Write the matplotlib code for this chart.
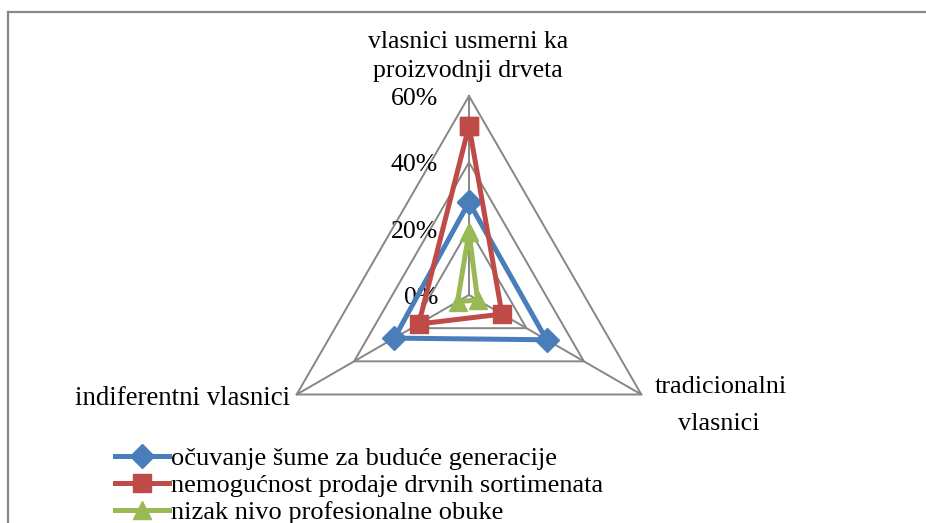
import numpy as np
import matplotlib
matplotlib.use("Agg")
import matplotlib.pyplot as plt
from matplotlib.lines import Line2D

plt.rcParams['font.family'] = ['Liberation Serif', 'DejaVu Serif']

# kategorije (od vrha, u smeru kazaljke)
kategorije = [["vlasnici usmerni ka", "proizvodnji drveta"],
              ["tradicionalni", "vlasnici"],
              ["indiferentni vlasnici"]]
serije = ["očuvanje šume za buduće generacije",
          "nemogućnost prodaje drvnih sortimenata",
          "nizak nivo profesionalne obuke"]
ocuvanje = [28, 27, 26]
nemogucnost = [51, 11.5, 17.5]
obuka = [19, 3, 4]
nivoi = [0, 20, 40, 60]

W, H = 926, 523
cx, cy = 469, 295          # centar mreze u pikselima
s = 199 / 60               # piksela po procentu
fs = 19

fig = plt.figure(figsize=(W / 100, H / 100), dpi=100)
ax = fig.add_axes([0, 0, 1, 1])
ax.set_xlim(-cx / s, (W - cx) / s)
ax.set_ylim(-(H - cy) / s, cy / s)
ax.axis('off')

ugao = np.radians([90, -30, 210])


def xy(vals):
    v = np.asarray(vals, dtype=float)
    x = v * np.cos(ugao)
    y = v * np.sin(ugao)
    return np.append(x, x[0]), np.append(y, y[0])


siva = '#868686'
# mreza
for n in nivoi[1:]:
    gx, gy = xy([n] * 3)
    ax.plot(gx, gy, color=siva, lw=1.4, zorder=1)
for a in ugao:
    ax.plot([0, 60 * np.cos(a)], [0, 60 * np.sin(a)], color=siva, lw=1.4, zorder=1)
for n in nivoi:
    ax.text(-31 / s, n - 3 / s, f"{n}%", ha='right', va='center', fontsize=18.5)

# serije
stil = [('#4A7EBB', 'D', 12, ocuvanje),
        ('#BE4B48', 's', 13.5, nemogucnost),
        ('#98B954', '^', 13, obuka)]
for (boja, m, ms, vals), ime in zip(stil, serije):
    px, py = xy(vals)
    ax.plot(px, py, color=boja, lw=3.6, marker=m, markersize=ms,
            markeredgecolor=boja, label=ime, zorder=3)


def fpos(x, y):
    return x / W, 1 - y / H


# nazivi osa
fig.text(*fpos(468, 48), kategorije[0][0], ha='center', va='baseline', fontsize=18.5)
fig.text(*fpos(468, 77), kategorije[0][1], ha='center', va='baseline', fontsize=18.5)
fig.text(*fpos(721, 393), kategorije[1][0], ha='center', va='baseline', fontsize=18.8)
fig.text(*fpos(719, 430), kategorije[1][1], ha='center', va='baseline', fontsize=18.8)
fig.text(*fpos(290, 405), kategorije[2][0], ha='right', va='baseline', fontsize=19.3)

leg = ax.legend(loc='upper left', bbox_to_anchor=fpos(115, 447),
                bbox_transform=fig.transFigure, frameon=False, fontsize=fs,
                handlelength=2.05, handletextpad=0.08, labelspacing=0.12,
                borderpad=0, borderaxespad=0)

# okvir
fig.add_artist(Line2D([8 / W, 1], [1 - 12 / H] * 2, color='#888888', lw=1.6,
                      transform=fig.transFigure))
fig.add_artist(Line2D([8 / W] * 2, [0, 1 - 12 / H], color='#888888', lw=1.6,
                      transform=fig.transFigure))

fig.savefig('out.png', dpi=100)
